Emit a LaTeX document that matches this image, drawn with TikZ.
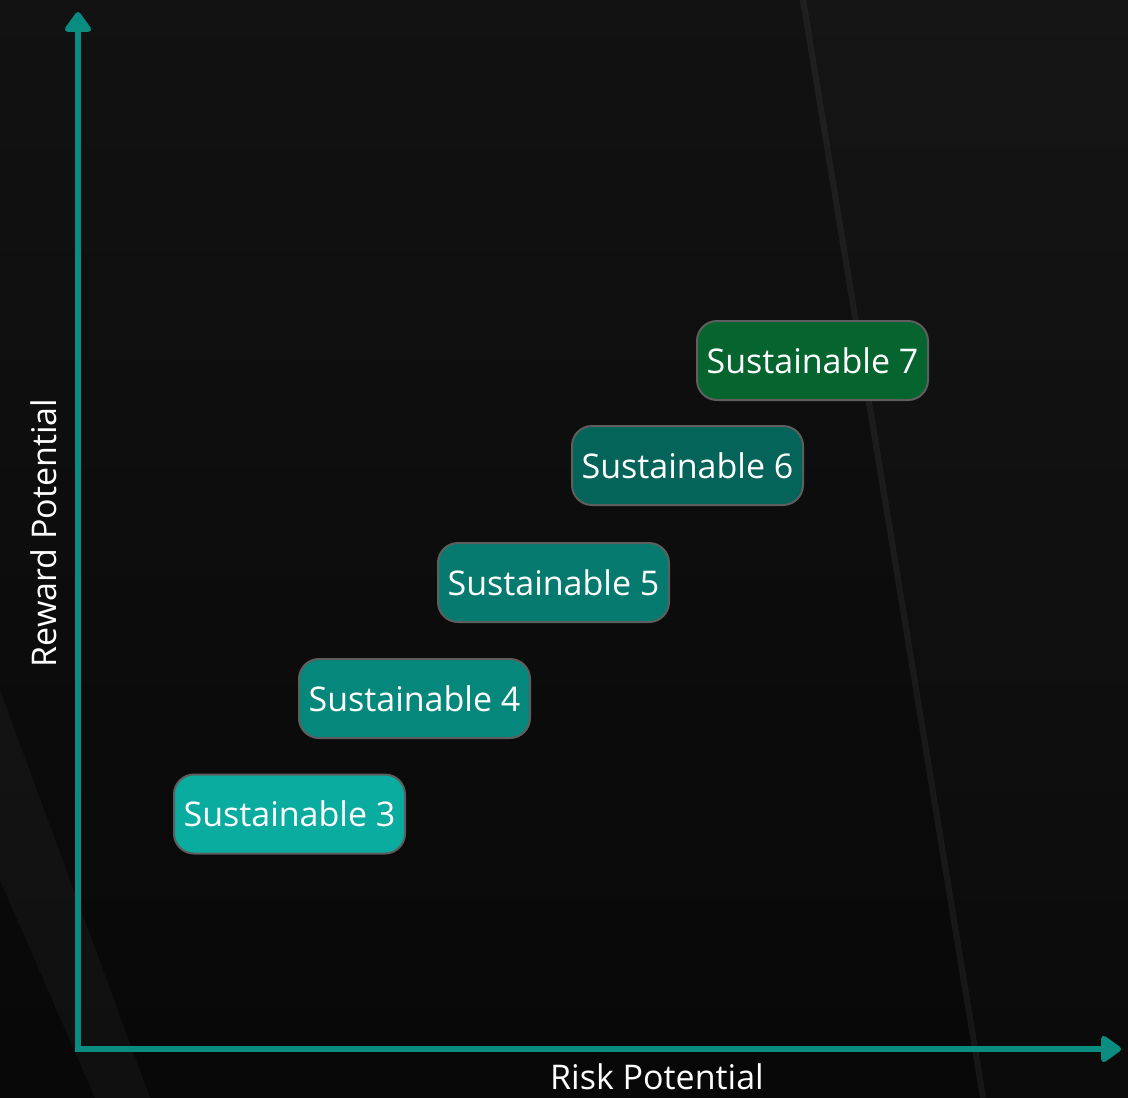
\documentclass[tikz,border=0pt]{standalone}
\usepackage{fontspec}
\setmainfont{Open Sans}
\usepackage{tikz}
\usetikzlibrary{arrows.meta}
\usetikzlibrary{positioning}
\definecolor{axisteal}{HTML}{0B8C80}
\definecolor{boxedge}{HTML}{5E5E5E}
\definecolor{lvlthree}{HTML}{0AAC9F}
\definecolor{lvlfour}{HTML}{06877C}
\definecolor{lvlfive}{HTML}{077A70}
\definecolor{lvlsix}{HTML}{05645A}
\definecolor{lvlseven}{HTML}{06642F}
\tikzset{level/.style={rectangle, draw=boxedge, line width=2pt, rounded corners=20pt,
        minimum width=231pt, minimum height=79pt, inner sep=0pt,
        text=white, font=\fontsize{34}{38}\selectfont}}
\tikzset{axis/.style={draw=axisteal, line width=6pt,
        -{Triangle[round, length=22pt, width=30pt, fill=axisteal]}}}
\tikzset{axislabel/.style={text=white, font=\fontsize{34}{38}\selectfont}}

\begin{document}
\begin{tikzpicture}[x=1pt, y=-1pt]
      \useasboundingbox (0,0) rectangle (1128,1098);
      % Background
      \shade [top color=black!93, bottom color=black!97] (0,0) rectangle (1128,1098);
      \fill [white, opacity=0.015] (805,0) -- (1128,0) -- (1128,1098) -- (985,1098) -- cycle;
      \draw [white, opacity=0.06, line width=6pt] (803,0) -- (983,1098);
      \fill [white, opacity=0.035] (0,690) -- (70,880) -- (150,1098) -- (95,1098) -- (0,880) -- cycle;
      % Place nodes
      \coordinate (origin) at (78,1049);
      \coordinate (ytop) at (78,12);
      \coordinate (xend) at (1121,1049);
      \node [level, fill=lvlthree] (s3) at (289.5,814) {Sustainable 3};
      \node [level, fill=lvlfour] (s4) at (414.5,698.5) {Sustainable 4};
      \node [level, fill=lvlfive] (s5) at (553.5,582.5) {Sustainable 5};
      \node [level, fill=lvlsix] (s6) at (687.5,465.5) {Sustainable 6};
      \node [level, fill=lvlseven] (s7) at (812.5,360.5) {Sustainable 7};
      \node [axislabel, rotate=90] (reward) at (44,533) {Reward Potential};
      \node [axislabel] (risk) at (657,1077) {Risk Potential};
      % Draw axes
      \draw [axis] ([yshift=3pt]origin) -- (ytop);
      \draw [axis] ([xshift=-3pt]origin) -- (xend);
\end{tikzpicture}
\end{document}
